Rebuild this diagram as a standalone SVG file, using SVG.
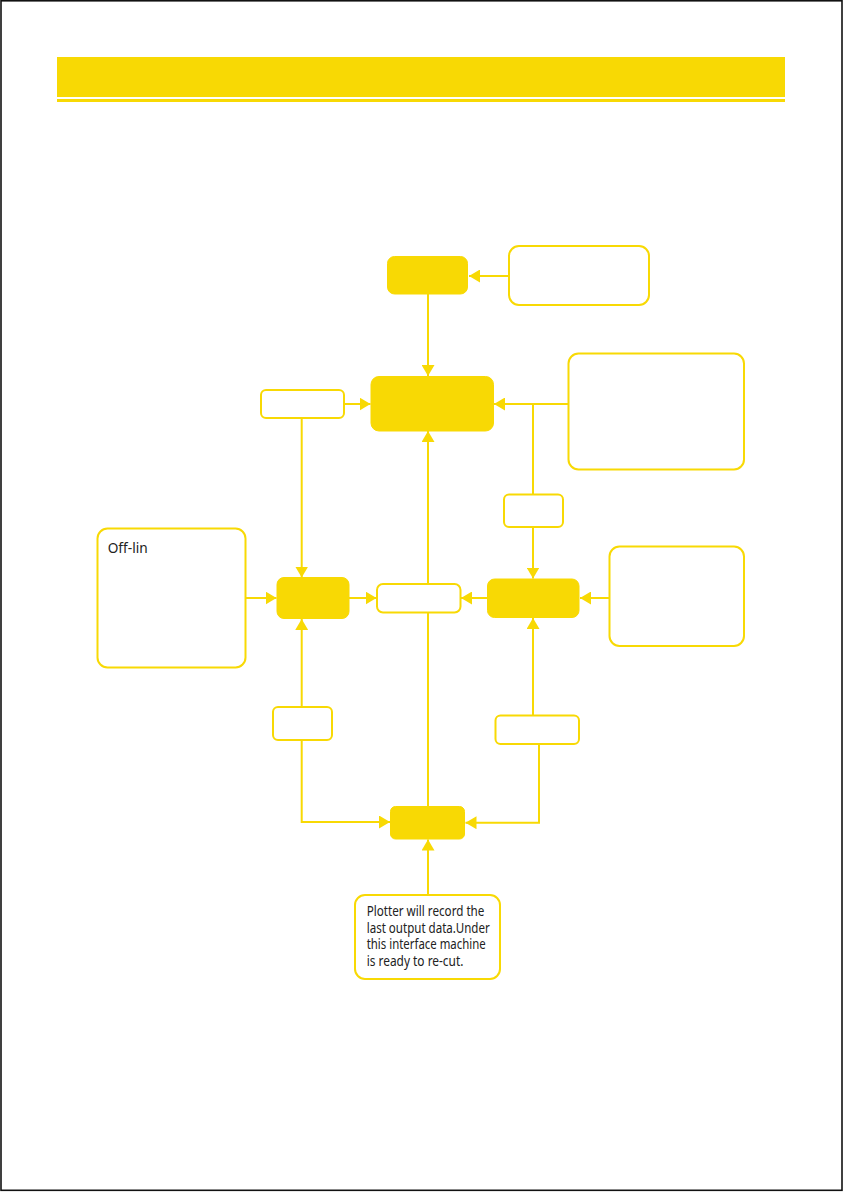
<svg xmlns="http://www.w3.org/2000/svg" width="843" height="1192" viewBox="0 0 843 1192">
<style>
.fill{fill:#F8D904;stroke:#F8D904;stroke-width:1}
.box{fill:#ffffff;stroke:#F8D904;stroke-width:2}
.con{fill:none;stroke:#F8D904;stroke-width:2}
.arr{marker-end:url(#ah)}
.txt{font-family:"Noto Sans","Liberation Sans",Arial,sans-serif;font-size:13.5px;fill:#222222}
</style>
<defs>
<marker id="ah" markerUnits="userSpaceOnUse" markerWidth="12" markerHeight="13" refX="11" refY="6.5" orient="auto">
<path d="M0,0 L11,6.5 L0,13 z" fill="#F8D904"/>
</marker>
</defs>
<rect x="0" y="0" width="843" height="1192" fill="#ffffff"/>
<rect x="1" y="0.8" width="841" height="1189.5" fill="none" stroke="#111111" stroke-width="1.6"/>
<g id="header">
<rect x="57" y="57" width="728" height="40" fill="#F8D904"/>
<rect x="57" y="99" width="728" height="3" fill="#F8D904"/>
</g>
<g id="connectors">
<path class="con arr" d="M508,276 H469"/>
<path class="con arr" d="M428,294 V376"/>
<path class="con arr" d="M344,404 H370.5"/>
<path class="con arr" d="M568,404 H494"/>
<path class="con" d="M533,404 V494"/>
<path class="con arr" d="M533,527 V578.5"/>
<path class="con arr" d="M301.7,418 V577.5"/>
<path class="con arr" d="M245.7,598 H276.5"/>
<path class="con arr" d="M349,598 H376.5"/>
<path class="con arr" d="M487,598 H461"/>
<path class="con arr" d="M609,598 H580"/>
<path class="con arr" d="M428,584 V431"/>
<path class="con" d="M428,613 V806"/>
<path class="con arr" d="M301.7,706.7 V619"/>
<path class="con arr" d="M301.7,740 V822 H390"/>
<path class="con arr" d="M533,715.3 V618"/>
<path class="con arr" d="M539,744 V822.7 H465.5"/>
<path class="con arr" d="M428,895 V839.5"/>
</g>
<g id="node-top"><rect class="fill" x="387.5" y="256.5" width="80" height="37.5" rx="7"/></g>
<g id="note-top-right"><rect class="box" x="509" y="246" width="140" height="59" rx="10"/></g>
<g id="node-center"><rect class="fill" x="371" y="376.5" width="122.5" height="54.5" rx="8"/></g>
<g id="label-left-top"><rect class="box" x="261" y="390" width="83" height="28" rx="5"/></g>
<g id="note-right-top"><rect class="box" x="568.5" y="353.5" width="175.5" height="116" rx="10"/></g>
<g id="label-right-mid"><rect class="box" x="504" y="494.5" width="59" height="32.5" rx="5"/></g>
<g id="note-offline"><rect class="box" x="97.5" y="528.5" width="148" height="139" rx="10"/>
<text class="txt" x="107.7" y="553.3" textLength="40" lengthAdjust="spacingAndGlyphs">Off-lin</text></g>
<g id="node-left"><rect class="fill" x="277" y="577.5" width="72" height="41" rx="7"/></g>
<g id="label-middle"><rect class="box" x="377" y="584" width="83.5" height="28.5" rx="6"/></g>
<g id="node-right"><rect class="fill" x="487.5" y="579" width="91.5" height="38.5" rx="7"/></g>
<g id="note-right-mid"><rect class="box" x="609.5" y="546.5" width="134.5" height="99.5" rx="10"/></g>
<g id="label-left-bottom"><rect class="box" x="273" y="707" width="59" height="33" rx="5"/></g>
<g id="label-right-bottom"><rect class="box" x="495.5" y="715.5" width="83.5" height="28.5" rx="5"/></g>
<g id="node-bottom"><rect class="fill" x="390.5" y="806.5" width="74" height="32.5" rx="5"/></g>
<g id="note-bottom"><rect class="box" x="355" y="895" width="145" height="84" rx="10"/>
<text class="txt" x="366.7" y="916" textLength="117.7" lengthAdjust="spacingAndGlyphs">Plotter will record the</text>
<text class="txt" x="366.7" y="932.7" textLength="123" lengthAdjust="spacingAndGlyphs">last output data.Under</text>
<text class="txt" x="366.7" y="949.4" textLength="119" lengthAdjust="spacingAndGlyphs">this interface machine</text>
<text class="txt" x="366.7" y="966" textLength="96.7" lengthAdjust="spacingAndGlyphs">is ready to re-cut.</text>
</g>
</svg>
